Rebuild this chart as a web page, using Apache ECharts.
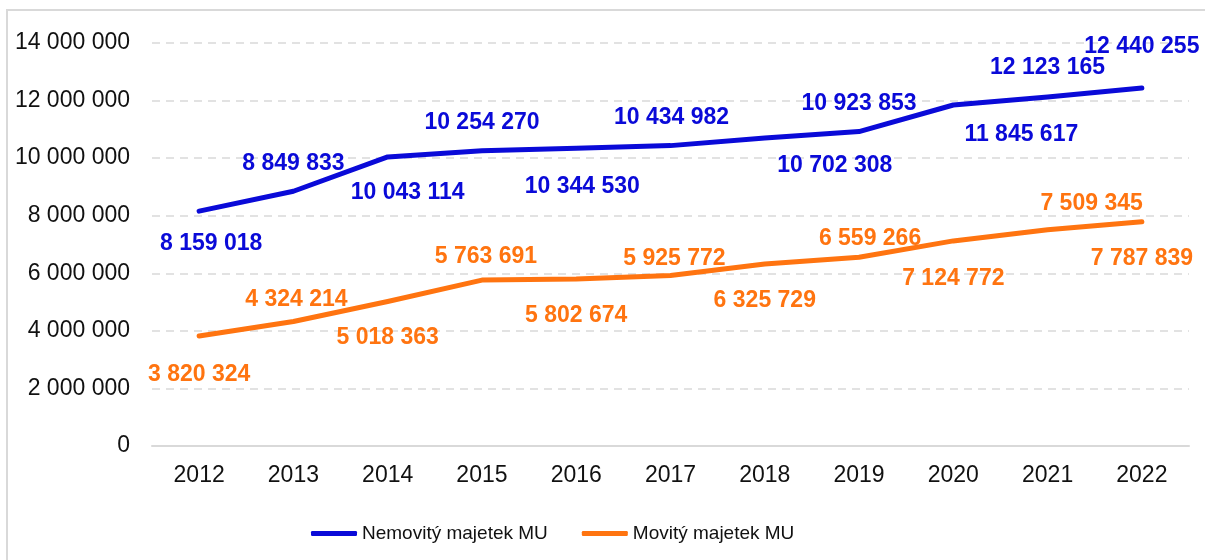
<!DOCTYPE html>
<html>
<head>
<meta charset="utf-8">
<script src="https://cdn.jsdelivr.net/npm/echarts@6/dist/echarts.min.js"></script>
<style>html,body{margin:0;padding:0;background:#fff}#c{width:1205px;height:560px}</style>
</head>
<body>
<div id="c"></div>
<script>
const years = ['2012','2013','2014','2015','2016','2017','2018','2019','2020','2021','2022'];
const nemovity = [8159018, 8849833, 10043114, 10254270, 10344530, 10434982, 10702308, 10923853, 11845617, 12123165, 12440255];
const movity = [3820324, 4324214, 5018363, 5763691, 5802674, 5925772, 6325729, 6559266, 7124772, 7509345, 7787839];
const seriesNames = ['Nemovitý majetek MU', 'Movitý majetek MU'];

function fmt(v){ return String(Math.round(v)).replace(/\B(?=(\d{3})+(?!\d))/g, ' '); }

const BLUE = '#0a0ad8';
const ORANGE = '#ff7410';
const FONT = '"Liberation Sans", Arial, sans-serif';

// label placement (style): side and manual nudges as in the reference
const labelStyle = {
  nem: {pos:['bottom','top','bottom','top','bottom','top','bottom','top','bottom','top','top'],
        dx:[12,0,20,0,6,1,70,0,68,0,0], dy:[3,2,6,1,9,2,-2,2,0,0,-12]},
  mov: {pos:['bottom','top','bottom','top','bottom','top','bottom','top','bottom','top','bottom'],
        dx:[0,3,0,4,0,4,0,11,0,44,0], dy:[9,8,7,6,7,13,7,11,8,3,7]}
};

function mk(values, st){
  return values.map((v,i)=>({value:v, label:{position:st.pos[i], offset:[st.dx[i], st.dy[i]]}}));
}

const chart = echarts.init(document.getElementById('c'));
chart.setOption({
  animation:false,
  graphic:[{type:'rect', shape:{x:7, y:10, width:1400, height:700}, style:{fill:'none', stroke:'#d9d9d9', lineWidth:2}, silent:true, z:-1}],
  grid:{left:152, right:16, top:43, bottom:114},
  legend:{
    bottom:12, left:306, itemWidth:46, itemHeight:5, itemGap:34,
    icon:'roundRect',
    textStyle:{fontFamily:FONT, fontSize:19, color:'#111', padding:0},
    data:seriesNames
  },
  xAxis:{
    type:'category', data:years, boundaryGap:true,
    axisLine:{lineStyle:{color:'#d9d9d9', width:2}},
    axisTick:{show:false},
    axisLabel:{fontFamily:FONT, fontSize:23, color:'#111', margin:18}
  },
  yAxis:{
    type:'value', min:0, max:14000000, interval:2000000,
    axisLine:{show:false}, axisTick:{show:false},
    axisLabel:{fontFamily:FONT, fontSize:23, color:'#111', margin:22, formatter:fmt},
    splitLine:{lineStyle:{color:'#d9d9d9', width:1.5, type:[8,6]}}
  },
  series:[
    {name:seriesNames[0], type:'line', data:mk(nemovity, labelStyle.nem), color:BLUE,
     lineStyle:{width:5, color:BLUE, cap:'round', join:'round'}, showSymbol:true, symbol:'circle', symbolSize:0.1,
     label:{show:true, distance:18, color:BLUE, fontFamily:FONT, fontSize:23, fontWeight:'bold', formatter:p=>fmt(p.value)}},
    {name:seriesNames[1], type:'line', data:mk(movity, labelStyle.mov), color:ORANGE,
     lineStyle:{width:5, color:ORANGE, cap:'round', join:'round'}, showSymbol:true, symbol:'circle', symbolSize:0.1,
     label:{show:true, distance:18, color:ORANGE, fontFamily:FONT, fontSize:23, fontWeight:'bold', formatter:p=>fmt(p.value)}}
  ]
});
</script>
</body>
</html>
